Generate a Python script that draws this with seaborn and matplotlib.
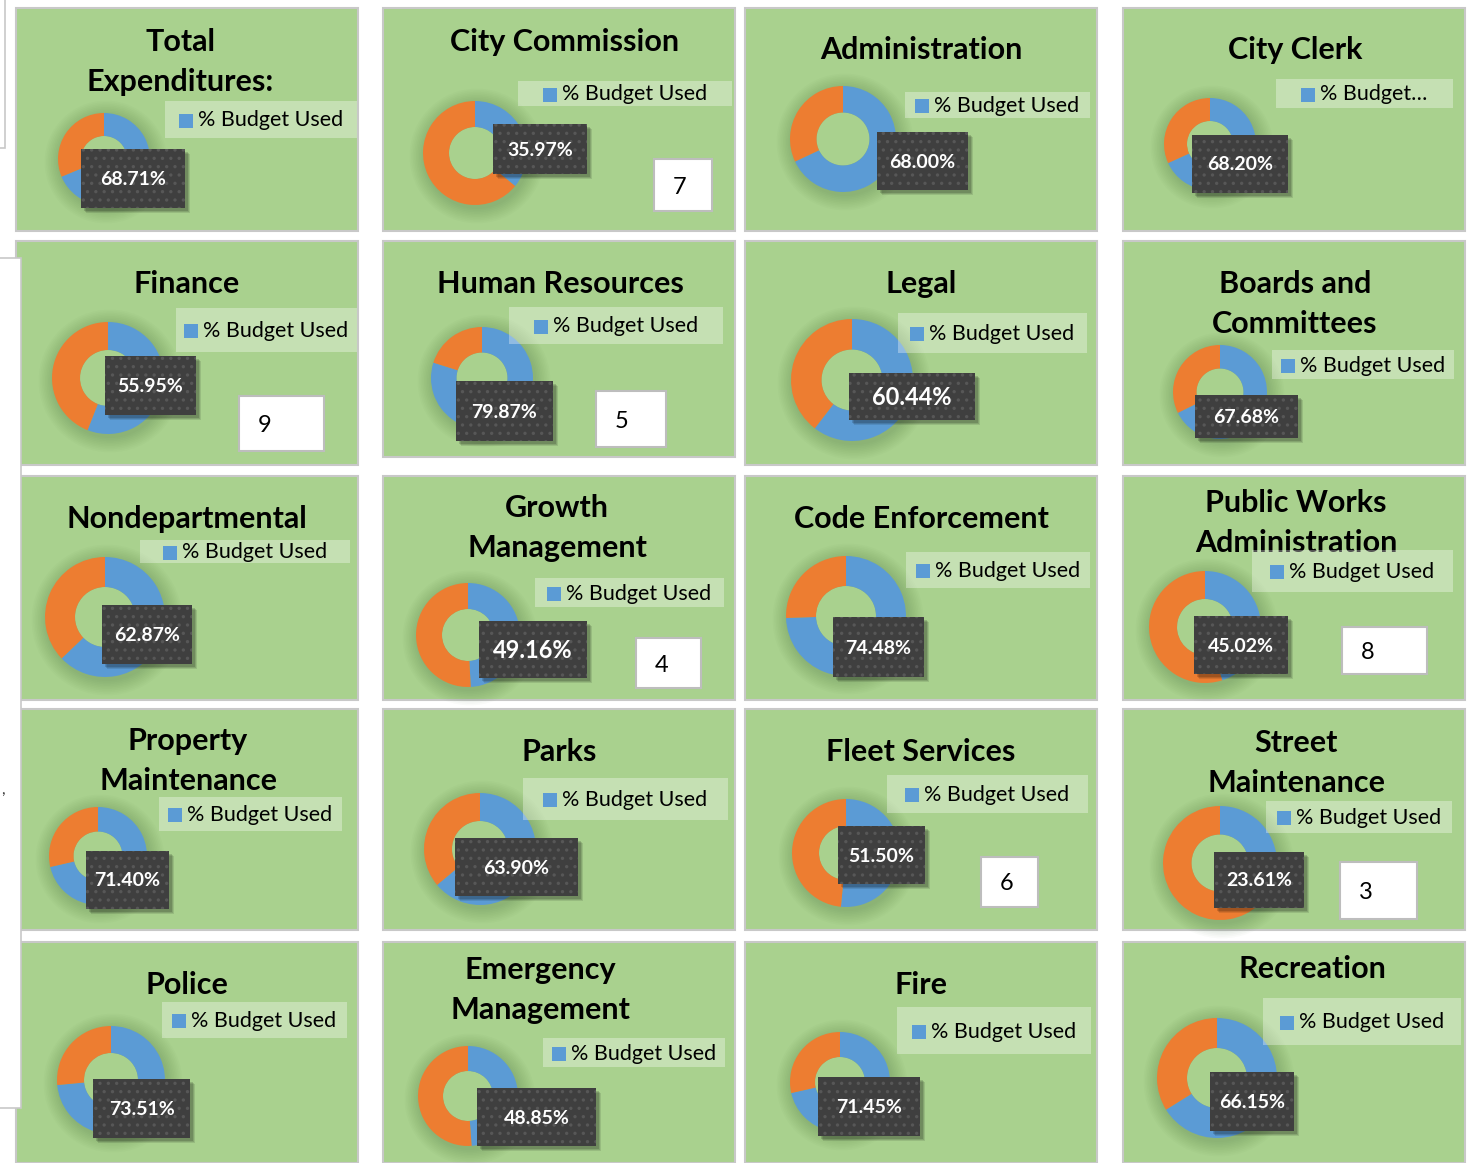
import matplotlib
matplotlib.use("Agg")
import matplotlib.pyplot as plt
from matplotlib.patches import Rectangle, Circle
import seaborn as sns

# data
titles = [
    ["Total", "Expenditures:"], ["City Commission"], ["Administration"], ["City Clerk"],
    ["Finance"], ["Human Resources"], ["Legal"], ["Boards and", "Committees"],
    ["Nondepartmental"], ["Growth", "Management"], ["Code Enforcement"], ["Public Works", "Administration"],
    ["Property", "Maintenance"], ["Parks"], ["Fleet Services"], ["Street", "Maintenance"],
    ["Police"], ["Emergency", "Management"], ["Fire"], ["Recreation"],
]
pct_used = [68.71, 35.97, 68.00, 68.20,
            55.95, 79.87, 60.44, 67.68,
            62.87, 49.16, 74.48, 45.02,
            71.40, 63.90, 51.50, 23.61,
            73.51, 48.85, 71.45, 66.15]
ranks = [None, 7, None, None,
         9, 5, None, None,
         None, 4, None, 8,
         None, None, 6, 3,
         None, None, None, None]
legend_labels = ["% Budget Used"] * 20
legend_labels[3] = "% Budget\u2026"

# layout in pixels (x0, y0, x1, y1), y measured from the top
panels = [(16, 8, 358, 231), (383, 8, 735, 231), (745, 8, 1097, 231), (1123, 8, 1465, 231),
          (16, 241, 358, 465), (383, 241, 735, 457), (745, 241, 1097, 465), (1123, 241, 1465, 465),
          (16, 476, 358, 700), (383, 476, 735, 700), (745, 476, 1097, 700), (1123, 476, 1465, 700),
          (16, 709, 358, 930), (383, 709, 735, 930), (745, 709, 1097, 930), (1123, 709, 1465, 930),
          (16, 942, 358, 1163), (383, 942, 735, 1163), (745, 942, 1097, 1163), (1123, 942, 1465, 1163)]
title_pos = [(180, 42), (565, 42), (921, 50), (1295, 50),
             (187, 284), (560, 284), (921, 284), (1295, 284),
             (187, 519), (557, 508), (921, 519), (1296, 503),
             (188, 741), (559, 752), (921, 752), (1296, 743),
             (187, 985), (540, 970), (921, 985), (1312, 969)]
legend_box = [(165, 101, 357, 138), (518, 81, 732, 106), (905, 92, 1090, 118), (1276, 79, 1453, 108),
              (176, 308, 357, 352), (509, 307, 723, 344), (898, 313, 1087, 353), (1272, 350, 1454, 379),
              (140, 540, 350, 563), (535, 578, 724, 607), (906, 552, 1090, 588), (1252, 550, 1453, 592),
              (159, 797, 342, 831), (523, 778, 728, 820), (887, 775, 1088, 813), (1266, 801, 1452, 833),
              (162, 1002, 347, 1038), (543, 1038, 725, 1067), (897, 1007, 1091, 1054), (1263, 998, 1461, 1045)]
donuts = [(104, 159, 46), (475, 153, 52), (843, 139, 53), (1210, 144, 46),
          (108, 378, 56), (482, 378, 51), (852, 380, 61), (1220, 392, 47),
          (105, 617, 60), (468, 635, 52), (846, 616, 60), (1205, 627, 56),
          (98, 856, 49), (480, 849, 56), (846, 853, 54), (1220, 863, 57),
          (111, 1080, 54), (468, 1096, 50), (840, 1082, 50), (1217, 1078, 60)]
label_box = [(81, 149, 185, 208), (493, 124, 587, 174), (877, 132, 968, 190), (1192, 135, 1288, 193),
             (105, 356, 196, 415), (456, 381, 553, 441), (849, 373, 975, 420), (1195, 395, 1298, 438),
             (102, 605, 192, 664), (479, 621, 587, 678), (833, 617, 924, 677), (1194, 616, 1288, 674),
             (86, 851, 169, 909), (455, 838, 578, 896), (838, 826, 925, 884), (1214, 852, 1304, 908),
             (93, 1079, 190, 1138), (477, 1088, 596, 1146), (818, 1077, 920, 1136), (1210, 1072, 1294, 1131)]
big_label = [6, 9]
rank_box = {1: (654, 159, 712, 211), 4: (239, 396, 324, 451), 5: (596, 391, 666, 447),
            9: (636, 638, 701, 688), 11: (1342, 627, 1427, 674), 14: (981, 857, 1038, 907),
            15: (1340, 862, 1417, 919)}

W, H = 1467, 1163
GREEN = "#A9D18E"
colors = sns.color_palette(["#5B9BD5", "#ED7D31"])

sns.set_theme(style="white")
plt.rcParams["font.family"] = ["Lato", "DejaVu Sans"]
plt.rcParams["hatch.linewidth"] = 1.2

fig = plt.figure(figsize=(W / 100, H / 100), dpi=100)
fig.patch.set_facecolor("white")

bg = fig.add_axes([0, 0, 1, 1])
bg.set_xlim(0, W)
bg.set_ylim(H, 0)
bg.axis("off")

for i, (x0, y0, x1, y1) in enumerate(panels):
    bg.add_patch(Rectangle((x0, y0), x1 - x0, y1 - y0, facecolor=GREEN, edgecolor="#C8C8C8", lw=1.5))
    tx, ty = title_pos[i]
    for k, line in enumerate(titles[i]):
        bg.text(tx, ty + 40 * k, line, ha="center", va="center", fontsize=22,
                fontweight="bold", color="black")
    # soft shadow round the donut, hole left clear
    cx, cy, r = donuts[i]
    for k in range(10):
        bg.add_patch(Circle((cx + 2, cy + 3), r + 1 + k * 1.6, facecolor="#3a5a2a",
                            alpha=0.022, lw=0))
    bg.add_patch(Circle((cx, cy), 0.5 * r, facecolor=GREEN, lw=0))
    if i in rank_box:
        a0, b0, a1, b1 = rank_box[i]
        bg.add_patch(Rectangle((a0, b0), a1 - a0, b1 - b0, facecolor="white",
                               edgecolor="#BDBDBD", lw=1.5))
        bg.text(a0 + 26, (b0 + b1) / 2 + 2, str(ranks[i]), ha="center", va="center",
                fontsize=17, color="black")

# white frames sitting at the left edge of the sheet
bg.add_patch(Rectangle((-5, -5), 10, 153, facecolor="white", edgecolor="#C8C8C8", lw=1.2))
bg.add_patch(Rectangle((-5, 258), 26, 850, facecolor="white", edgecolor="#C8C8C8", lw=1.2))
bg.text(3, 790, ",", fontsize=11, ha="center", va="center", color="#333333")

# donuts
for i, (cx, cy, r) in enumerate(donuts):
    ax = fig.add_axes([(cx - r) / W, 1 - (cy + r) / H, 2 * r / W, 2 * r / H])
    ax.pie([pct_used[i], 100 - pct_used[i]], colors=colors, startangle=90, counterclock=False,
           wedgeprops=dict(width=0.5, linewidth=0))
    ax.set_xlim(-1, 1)
    ax.set_ylim(-1, 1)
    ax.set_aspect("equal")
    ax.axis("off")

top = fig.add_axes([0, 0, 1, 1])
top.set_xlim(0, W)
top.set_ylim(H, 0)
top.axis("off")
top.patch.set_alpha(0)

renderer = fig.canvas.get_renderer()
for i in range(20):
    x0, y0, x1, y1 = legend_box[i]
    top.add_patch(Rectangle((x0, y0), x1 - x0, y1 - y0, facecolor="white", alpha=0.33, lw=0))
    t = top.text(0, (y0 + y1) / 2 + 1, legend_labels[i], ha="left", va="center", fontsize=15.5,
                 color="black")
    tw = t.get_window_extent(renderer).width
    sq, gap = 14, 5
    left = x0 + ((x1 - x0) - (sq + gap + tw)) / 2
    t.set_x(left + sq + gap)
    top.add_patch(Rectangle((left, (y0 + y1) / 2 - sq / 2 + 1), sq, sq, facecolor=colors[0], lw=0))

    a0, b0, a1, b1 = label_box[i]
    for k, al in enumerate([0.10, 0.12, 0.15]):
        d = 5 - k
        top.add_patch(Rectangle((a0 + d, b0 + d), a1 - a0, b1 - b0, facecolor="black",
                                alpha=al, lw=0))
    top.add_patch(Rectangle((a0, b0), a1 - a0, b1 - b0, facecolor="#3F3F3F",
                            edgecolor="#575757", hatch="..", lw=0))
    top.text((a0 + a1) / 2, (b0 + b1) / 2 + 1, f"{pct_used[i]:.2f}%", ha="center", va="center",
             fontsize=17 if i in big_label else 14, fontweight="bold", color="white")

fig.savefig("out.png", dpi=100, facecolor="white")
